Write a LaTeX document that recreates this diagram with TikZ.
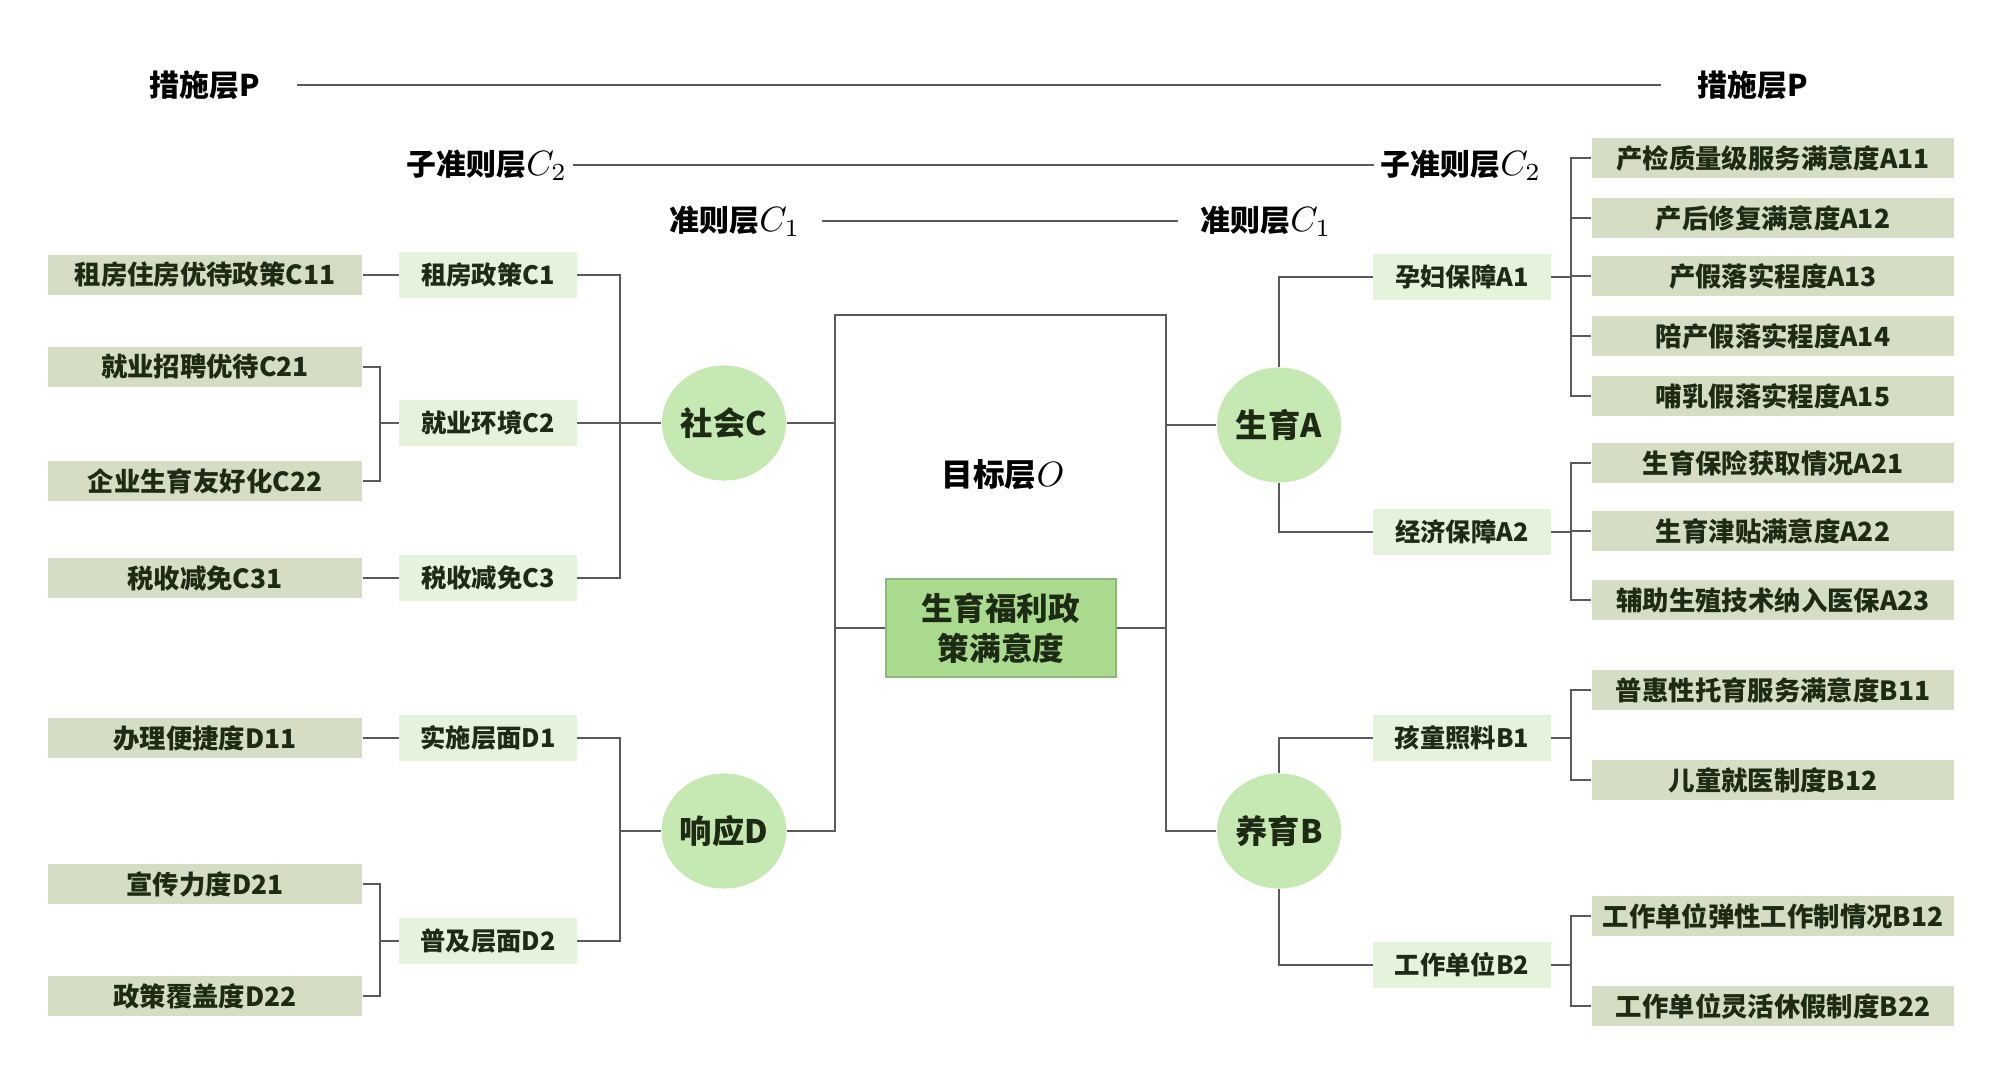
\documentclass[tikz,border=0pt]{standalone}
\usepackage{fontspec}
\usetikzlibrary{shapes.geometric}
\newfontfamily\cjk{Noto Sans CJK SC}
\definecolor{leaf}{HTML}{D6DDC5}
\definecolor{midc}{HTML}{E5F3DC}
\definecolor{circ}{HTML}{C6E8B3}
\definecolor{goal}{HTML}{A9DA8E}
\definecolor{goaledge}{HTML}{8CB87A}
\definecolor{txt}{HTML}{1E2B14}
\definecolor{ln}{HTML}{5A5A5A}
\begin{document}
\begin{tikzpicture}[x=0.01cm,y=-0.01cm,
  leafbox/.style={fill=leaf, minimum width=3.14cm, minimum height=0.40cm, inner sep=0pt, text=txt, font=\cjk\bfseries\fontsize{7.5}{9}\selectfont},
  rleafbox/.style={leafbox, minimum width=3.62cm, minimum height=0.39cm},
  midbox/.style={fill=midc, minimum width=1.77cm, minimum height=0.46cm, inner sep=0pt, text=txt, font=\cjk\bfseries\fontsize{7.2}{9}\selectfont},
  circnode/.style={ellipse, fill=circ, minimum width=1.24cm, minimum height=1.15cm, inner sep=0pt, text=txt, font=\cjk\bfseries\fontsize{9.2}{11}\selectfont},
  goalbox/.style={fill=goal, draw=goaledge, line width=0.5pt, minimum width=2.30cm, minimum height=0.98cm, inner sep=0pt, align=center, text=txt, font=\cjk\bfseries\fontsize{9}{11.5}\selectfont},
  layerlbl/.style={inner sep=0pt, text=black, font=\cjk\bfseries\fontsize{8.5}{10}\selectfont},
  conn/.style={draw=ln, line width=0.7pt},
  thin/.style={draw=ln, line width=0.5pt}
]
\useasboundingbox (0,0) rectangle (2000,1073);

% layer labels
\node[layerlbl] (Pl) at (205,85) {措施层P};
\node[layerlbl] (Pr) at (1753,85) {措施层P};
\node[layerlbl] (C2l) at (487,165) {子准则层\fontsize{10}{12}\selectfont$C_2$};
\node[layerlbl] (C2r) at (1461,165) {子准则层\fontsize{10}{12}\selectfont$C_2$};
\node[layerlbl] (C1l) at (735,221) {准则层\fontsize{10}{12}\selectfont$C_1$};
\node[layerlbl] (C1r) at (1266,221) {准则层\fontsize{10}{12}\selectfont$C_1$};
\draw[thin] ([xshift=0.36cm]Pl.east) -- ([xshift=-0.36cm]Pr.west);
\draw[thin] ([xshift=0.05cm]C2l.east) -- ([xshift=-0.06cm]C2r.west);
\draw[thin] ([xshift=0.21cm]C1l.east) -- ([xshift=-0.22cm]C1r.west);

% left leaves
\node[leafbox] (C11) at (205,275) {租房住房优待政策C11};
\node[leafbox] (C21) at (205,367) {就业招聘优待C21};
\node[leafbox] (C22) at (205,481) {企业生育友好化C22};
\node[leafbox] (C31) at (205,578) {税收减免C31};
\node[leafbox] (D11) at (205,738) {办理便捷度D11};
\node[leafbox] (D21) at (205,884) {宣传力度D21};
\node[leafbox] (D22) at (205,996) {政策覆盖度D22};

% left mids
\node[midbox] (C1) at (488,275) {租房政策C1};
\node[midbox] (C2) at (488,423) {就业环境C2};
\node[midbox] (C3) at (488,578) {税收减免C3};
\node[midbox] (D1) at (488,738) {实施层面D1};
\node[midbox] (D2) at (488,941) {普及层面D2};

% circles
\node[circnode] (Csoc) at (724,423) {社会C};
\node[circnode] (Dres) at (724,831) {响应D};
\node[circnode] (Ashe) at (1279,425) {生育A};
\node[circnode] (Byu) at (1279,831) {养育B};

% goal
\node[layerlbl, font=\cjk\bfseries\fontsize{9}{11}\selectfont] (goallbl) at (1003,475) {目标层\fontsize{10}{12}\selectfont$O$};
\node[goalbox] (goalbox) at (1001,628) {生育福利政\\策满意度};

% right mids
\node[midbox] (A1) at (1462,277) {孕妇保障A1};
\node[midbox] (A2) at (1462,532) {经济保障A2};
\node[midbox] (B1) at (1462,738) {孩童照料B1};
\node[midbox] (B2) at (1462,965) {工作单位B2};

% right leaves
\node[rleafbox] (A11) at (1773,158) {产检质量级服务满意度A11};
\node[rleafbox] (A12) at (1773,218) {产后修复满意度A12};
\node[rleafbox] (A13) at (1773,276) {产假落实程度A13};
\node[rleafbox] (A14) at (1773,336) {陪产假落实程度A14};
\node[rleafbox] (A15) at (1773,396) {哺乳假落实程度A15};
\node[rleafbox] (A21) at (1773,463) {生育保险获取情况A21};
\node[rleafbox] (A22) at (1773,531) {生育津贴满意度A22};
\node[rleafbox] (A23) at (1773,600) {辅助生殖技术纳入医保A23};
\node[rleafbox] (B11) at (1773,690) {普惠性托育服务满意度B11};
\node[rleafbox] (B12) at (1773,780) {儿童就医制度B12};
\node[rleafbox] (B21) at (1773,916) {工作单位弹性工作制情况B12};
\node[rleafbox] (B22) at (1773,1006) {工作单位灵活休假制度B22};

% junction coordinates
\coordinate (bC2) at (380,423);
\coordinate (bD2) at (380,941);
\coordinate (tC) at (620,423);
\coordinate (tD) at (620,831);
\coordinate (rTL) at (835,315);
\coordinate (rTR) at (1166,315);
\coordinate (rBL) at (835,831);
\coordinate (rBR) at (1166,831);
\coordinate (bA1) at (1571,277);
\coordinate (bA2) at (1571,532);
\coordinate (bB1) at (1571,738);
\coordinate (bB2) at (1571,965);

% left connectors
\draw[conn] (C11) -- (C1);
\draw[conn] (C21.east) -| (bC2);
\draw[conn] (C22.east) -| (bC2);
\draw[conn] (bC2) -- (C2.west);
\draw[conn] (C31) -- (C3);
\draw[conn] (C1.east) -| (tC);
\draw[conn] (C3.east) -| (tC);
\draw[conn] (C2.east) -- (Csoc.west);
\draw[conn] (D11) -- (D1);
\draw[conn] (D21.east) -| (bD2);
\draw[conn] (D22.east) -| (bD2);
\draw[conn] (bD2) -- (D2.west);
\draw[conn] (D1.east) -| (tD);
\draw[conn] (D2.east) -| (tD);
\draw[conn] (tD) -- (Dres.west);

% centre
\draw[thin] (Dres.east) -- (rBL) -- (rTL) -- (rTR) -- (rBR) -- (Byu.west);
\draw[conn] (Csoc.east) -- (Csoc.east -| rTL);
\draw[conn] (Ashe.west) -- (Ashe.west -| rTR);
\draw[conn] (goalbox.west) -- (goalbox.west -| rTL);
\draw[conn] (goalbox.east) -- (goalbox.east -| rTR);

% right connectors
\draw[conn] (Ashe.north) |- (A1.west);
\draw[conn] (Ashe.south) |- (A2.west);
\draw[conn] (Byu.north) |- (B1.west);
\draw[conn] (Byu.south) |- (B2.west);
\draw[conn] (A1.east) -- (bA1);
\draw[conn] (A2.east) -- (bA2);
\draw[conn] (B1.east) -- (bB1);
\draw[conn] (B2.east) -- (bB2);
\foreach \n in {A11,A12,A13,A14,A15} \draw[conn] (\n.west) -| (bA1);
\foreach \n in {A21,A22,A23} \draw[conn] (\n.west) -| (bA2);
\foreach \n in {B11,B12} \draw[conn] (\n.west) -| (bB1);
\foreach \n in {B21,B22} \draw[conn] (\n.west) -| (bB2);
\end{tikzpicture}
\end{document}
